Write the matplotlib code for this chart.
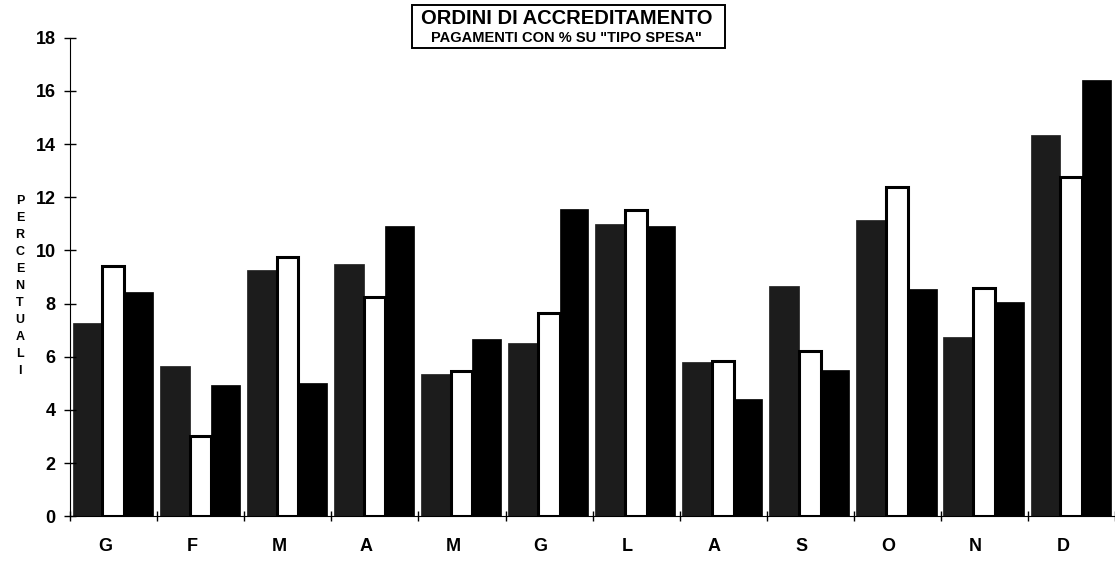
import numpy as np
import matplotlib
matplotlib.use("Agg")
import matplotlib.pyplot as plt

mesi = ["G", "F", "M", "A", "M", "G", "L", "A", "S", "O", "N", "D"]
serie_scura = [7.25, 5.65, 9.25, 9.5, 5.35, 6.5, 11.0, 5.8, 8.65, 11.15, 6.75, 14.35]
serie_bianca = [9.4, 3.0, 9.75, 8.25, 5.45, 7.65, 11.5, 5.85, 6.2, 12.4, 8.6, 12.75]
serie_nera = [8.45, 4.95, 5.0, 10.9, 6.65, 11.55, 10.9, 4.4, 5.5, 8.55, 8.05, 16.4]

plt.rcParams['font.family'] = ['Liberation Sans', 'DejaVu Sans']
plt.rcParams['font.weight'] = 'bold'

fig = plt.figure(figsize=(11.15, 5.8), dpi=100)
ax = fig.add_axes([0.063, 0.110, 0.937, 0.825])

x = np.arange(len(mesi))
# larghezze delle tre barre nel gruppo
w1, w2, w3 = 0.34, 0.25, 0.33
x0 = x + 0.03
ax.bar(x0, serie_scura, width=w1, align='edge', color='#1c1c1c', edgecolor='#1c1c1c', linewidth=0.5)
ax.bar(x0 + w1, serie_bianca, width=w2, align='edge', color='white', edgecolor='black', linewidth=2.2, zorder=1)
ax.bar(x0 + w1 + w2, serie_nera, width=w3, align='edge', color='black', edgecolor='black', linewidth=0.5, zorder=2)

ax.set_xlim(0, 12)
ax.set_ylim(0, 18)
ax.set_yticks(range(0, 19, 2))
ax.tick_params(axis='y', direction='inout', length=9, width=1, labelsize=13, pad=6)
ax.set_xticks(range(0, 13))
ax.set_xticklabels([])
ax.set_xticks(x + 0.4, minor=True)
ax.set_xticklabels(mesi, minor=True)
ax.tick_params(axis='x', which='major', direction='inout', length=7, width=1)
ax.tick_params(axis='x', which='minor', length=0, labelsize=13, pad=16)
for lab in ax.get_yticklabels() + ax.get_xticklabels(minor=True):
    lab.set_fontweight('bold')

ax.spines['top'].set_visible(False)
ax.spines['right'].set_visible(False)

fig.text(0.018, 0.507, "\n".join("PERCENTUALI"), ha='center', va='center',
         fontsize=9, fontweight='bold', linespacing=1.55)

fig.text(0.508, 0.968, "ORDINI DI ACCREDITAMENTO", ha='center', va='center',
         fontsize=14.5, fontweight='bold')
fig.text(0.508, 0.934, 'PAGAMENTI CON % SU "TIPO SPESA"', ha='center', va='center',
         fontsize=10.5, fontweight='bold')
box = plt.Rectangle((0.3695, 0.917), 0.281, 0.075, transform=fig.transFigure,
                    fill=False, edgecolor='black', linewidth=1.4)
fig.patches.append(box)

fig.savefig("out.png", dpi=100)
